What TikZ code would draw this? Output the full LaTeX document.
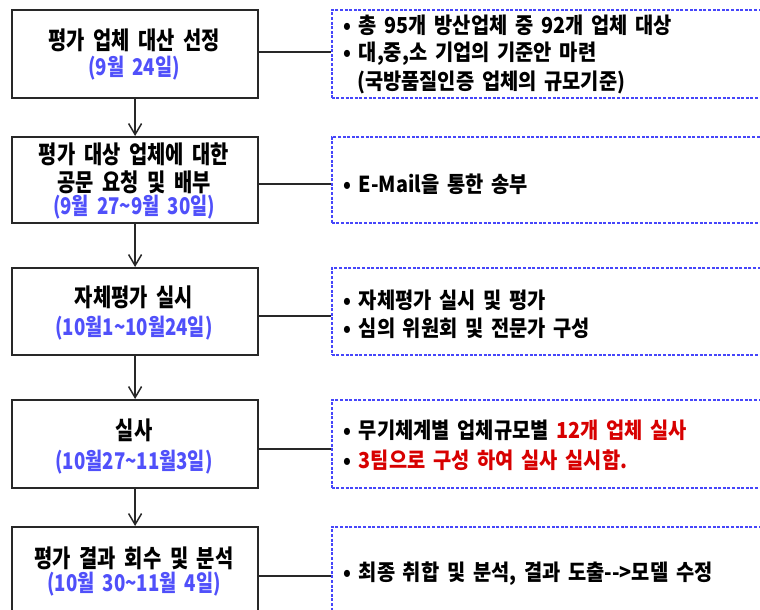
\documentclass[tikz,border=0pt]{standalone}
\usepackage{fontspec}
\usetikzlibrary{arrows.meta}
\newfontfamily\krT[FakeStretch=0.81,WordSpace=1.9]{Noto Sans CJK KR}
\newfontfamily\krR[FakeStretch=0.9,WordSpace=1.7]{Noto Sans CJK KR}
\definecolor{datec}{RGB}{80,80,250}
\definecolor{redc}{RGB}{215,0,0}
\definecolor{dashc}{RGB}{70,70,250}
\definecolor{linec}{RGB}{40,40,40}
\tikzset{
 stepbox/.style={draw=linec, line width=2.2pt, minimum width=246pt, inner sep=0pt, anchor=north west},
 notebox/.style={draw=dashc, line width=1.6pt, dash pattern=on 3pt off 1.6pt, minimum width=440pt, inner sep=0pt, anchor=north west},
 ttl/.style={font=\krT\bfseries\fontsize{24.5}{26}\selectfont, text=black, inner sep=0pt},
 dt/.style={font=\krT\bfseries\fontsize{23}{26}\selectfont, text=datec, inner sep=0pt},
 note/.style={font=\krR\bfseries\fontsize{22}{26}\selectfont, anchor=west, inner sep=0pt},
 conn/.style={draw=linec, line width=2pt},
 flow/.style={draw=linec, line width=1.5pt, -{Straight Barb[length=11pt,width=13pt,line width=1.5pt]}},
}
\begin{document}
\begin{tikzpicture}[x=1pt,y=-1pt]
\useasboundingbox (0,0) rectangle (760,610);
% left step boxes
\node[stepbox, minimum height=88pt] (b1) at (11,9) {};
\node[stepbox, minimum height=86pt] (b2) at (11,136) {};
\node[stepbox, minimum height=87pt] (b3) at (11,267) {};
\node[stepbox, minimum height=88pt] (b4) at (11,399) {};
\node[stepbox, minimum height=88pt] (b5) at (11,526) {};
% right note boxes
\node[notebox, minimum height=88pt] (n1) at (331,9) {};
\node[notebox, minimum height=86pt] (n2) at (331,136) {};
\node[notebox, minimum height=87pt] (n3) at (331,267) {};
\node[notebox, minimum height=88pt] (n4) at (331,399) {};
\node[notebox, minimum height=88pt] (n5) at (331,526) {};
% step texts
\node[ttl] (t1a) at (134,40) {평가 업체 대산 선정};
\node[dt]  (t1b) at (134,68) {(9월 24일)};
\node[ttl] (t2a) at (134,154) {평가 대상 업체에 대한};
\node[ttl] (t2b) at (134,182) {공문 요청 및 배부};
\node[dt]  (t2c) at (134,207) {(9월 27\textasciitilde 9월 30일)};
\node[ttl] (t3a) at (134,297) {자체평가 실시};
\node[dt]  (t3b) at (134,328) {(10월1\textasciitilde 10월24일)};
\node[ttl] (t4a) at (134,430) {실사};
\node[dt]  (t4b) at (134,462) {(10월27\textasciitilde 11월3일)};
\node[ttl] (t5a) at (134,558) {평가 결과 회수 및 분석};
\node[dt]  (t5b) at (134,584) {(10월 30\textasciitilde 11월 4일)};
% note texts
\node[note] (r1a) at (343,25) {• 총 95개 방산업체 중 92개 업체 대상};
\node[note] (r1b) at (343,54) {• 대,중,소 기업의 기준안 마련};
\node[note] (r1c) at (357,82) {(국방품질인증 업체의 규모기준)};
\node[note] (r2a) at (343,184) {• E-Mail을 통한 송부};
\node[note] (r3a) at (343,300) {• 자체평가 실시 및 평가};
\node[note] (r3b) at (343,328) {• 심의 위원회 및 전문가 구성};
\node[note] (r4a) at (343,430) {• 무기체계별 업체규모별 \textcolor{redc}{12개 업체 실사}};
\node[note] (r4b) at (343,460) {• \textcolor{redc}{3팀으로 구성 하여 실사 실시함.}};
\node[note] (r5a) at (343,574) {• 최종 취합 및 분석, 결과 도출-->모델 수정};
% connector levels
\coordinate (y1) at (0,52);
\coordinate (y2) at (0,184);
\coordinate (y3) at (0,316);
\coordinate (y4) at (0,449);
\coordinate (y5) at (0,576);
\draw[conn] (b1.east |- y1) -- (n1.west |- y1);
\draw[conn] (b2.east |- y2) -- (n2.west |- y2);
\draw[conn] (b3.east |- y3) -- (n3.west |- y3);
\draw[conn] (b4.east |- y4) -- (n4.west |- y4);
\draw[conn] (b5.east |- y5) -- (n5.west |- y5);
% flow arrows
\draw[flow] (b1.south) -- (b2.north);
\draw[flow] (b2.south) -- (b3.north);
\draw[flow] (b3.south) -- (b4.north);
\draw[flow] (b4.south) -- (b5.north);
\end{tikzpicture}
\end{document}
